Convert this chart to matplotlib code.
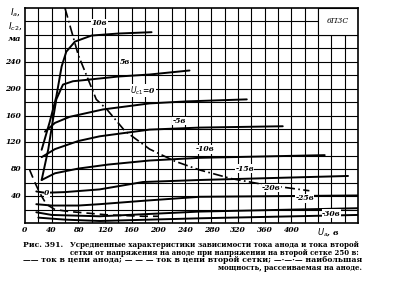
import matplotlib
matplotlib.use("Agg")
import matplotlib.pyplot as plt
from matplotlib.patches import Rectangle

# ---- data ----
ua_p10 = [25, 37, 47, 55, 62, 75, 100, 140, 190]
ia_p10 = [109, 150, 188, 233, 255, 270, 279, 282, 284]

ua_p5 = [25, 35, 42, 47, 57, 72, 92, 140, 187, 247]
ia_p5 = [64, 110, 154, 184, 206, 211, 213, 218, 221, 227]

ua_0 = [30, 45, 67, 117, 187, 243, 333]
ia_0 = [136, 149, 158, 169, 178, 181, 184]

ua_m5 = [25, 45, 80, 112, 187, 262, 387]
ia_m5 = [98, 110, 122, 129, 139, 142, 144]

ua_m10 = [25, 45, 80, 125, 187, 262, 450]
ia_m10 = [64, 74, 81, 87, 93, 97, 101]

ua_m15 = [17, 30, 60, 112, 177, 262, 485]
ia_m15 = [47, 45, 46, 50, 61, 64, 70]

ua_m20 = [17, 40, 80, 112, 177, 262, 500]
ia_m20 = [28, 26, 26, 28, 33, 39, 41]

ua_m25 = [17, 40, 112, 177, 262, 500]
ia_m25 = [16, 12, 10, 13, 17, 22]

ua_m30 = [20, 60, 112, 262, 500]
ia_m30 = [8, 5, 3, 7, 12]

ua_g2 = [7, 15, 22, 32, 45, 67, 125, 177, 200]
ig2 = [79, 60, 45, 28, 20, 17, 12, 10, 10]

ua_pmax = [60, 80, 107, 123, 150, 187, 225, 262, 310, 360, 427]
ia_pmax = [320, 250, 184, 169, 137, 110, 92, 79, 66, 57, 48]

x_ticks = [0, 40, 80, 120, 160, 200, 240, 280, 320, 360, 400]
y_ticks = [40, 80, 120, 160, 200, 240]

curve_labels = ["10в", "5в", "$U_{c1}$=0", "-5в", "-10в", "-15в", "-20в", "-25в", "-30в", "0"]
label_pos = [(112, 291), (150, 233), (177, 188), (232, 146), (270, 104),
             (330, 75), (370, 46), (420, 31), (460, 8), (33, 39)]

caption = [
    "Рис. 391.",
    "Усредненные характеристики зависимости тока анода и тока второй",
    "сетки от напряжения на аноде при напряжении на второй сетке 250 в:",
    "—— ток в цепи анода; — — — ток в цепи второй сетки; —·—·— наибольшая",
    "мощность, рассеиваемая на аноде.",
]
# (left px, right px, centre y px) of each caption line in the reference
caption_box = [(23, 63, 245), (70, 363, 245), (70, 363, 253), (23, 363, 260.5), (218, 363, 268)]

plt.rcParams['font.family'] = ['DejaVu Serif', 'Liberation Serif']

fig = plt.figure(figsize=(4, 3), dpi=100)
ax = fig.add_axes([25/400, 1-223/300, 333/400, 215/300])
ax.set_xlim(0, 500)
ax.set_ylim(0, 320)

# grid every 20
for gx in range(20, 500, 20):
    ax.axvline(gx, color='black', lw=0.8, zorder=1)
for gy in range(20, 320, 20):
    ax.axhline(gy, color='black', lw=0.8, zorder=1)

# type box
ax.add_patch(Rectangle((440, 280), 60, 40, facecolor='white', edgecolor='black', lw=0.8, zorder=2))
ax.text(470, 300, "6П3С", fontsize=5.5, style='italic', ha='center', va='center', zorder=3)

solid = [(ua_p10, ia_p10), (ua_p5, ia_p5), (ua_0, ia_0), (ua_m5, ia_m5), (ua_m10, ia_m10),
         (ua_m15, ia_m15), (ua_m20, ia_m20), (ua_m25, ia_m25), (ua_m30, ia_m30)]
for xs, ys in solid:
    ax.plot(xs, ys, color='black', lw=1.4, zorder=4, solid_capstyle='round')
ax.plot(ua_g2, ig2, color='black', lw=1.2, ls=(0, (5, 3)), zorder=4)
ax.plot(ua_pmax, ia_pmax, color='black', lw=1.2, ls=(0, (6, 2, 1, 2)), zorder=4)

for t, (lx, ly) in zip(curve_labels, label_pos):
    ax.text(lx, ly, t, fontsize=5.5, style='italic', fontweight='bold', ha='center', va='bottom',
            zorder=5, bbox=dict(facecolor='white', edgecolor='none', pad=0.3))

for s in ax.spines.values():
    s.set_linewidth(1.2)
ax.set_xticks([])
ax.set_yticks([])
for v in x_ticks:
    ax.text(v, -4, str(v), fontsize=5.5, style='italic', fontweight='bold', ha='center', va='top')
ax.text(455, -4, "$U_a$, в", fontsize=6, style='italic', fontweight='bold', ha='center', va='top')
for v in y_ticks:
    ax.text(-6, v, str(v), fontsize=5.5, style='italic', fontweight='bold', ha='right', va='center')
fig.text(15/400, 1-12/300, "$I_a$,", fontsize=6.5, ha='center', va='center')
fig.text(15/400, 1-26/300, "$I_{c2}$,", fontsize=6.5, ha='center', va='center')
fig.text(15/400, 1-39/300, "ма", fontsize=6, style='italic', fontweight='bold', ha='center', va='center')

# caption lines, font size fitted to the reference line widths
renderer = fig.canvas.get_renderer()
for txt, (l, r, yc) in zip(caption, caption_box):
    t = fig.text(l/400, 1-yc/300, txt, fontsize=6, fontweight='bold', ha='left', va='center')
    w = t.get_window_extent(renderer).width
    fs = min(6.5, 6 * (r - l) / w)
    t.set_fontsize(fs)

fig.savefig("out.png", dpi=100)
